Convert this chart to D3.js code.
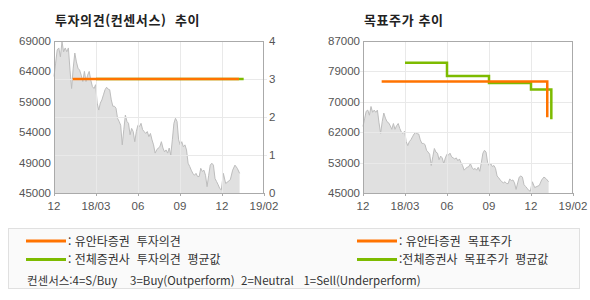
<!DOCTYPE html>
<html lang="ko">
<head>
<meta charset="UTF-8">
<title>투자의견 / 목표주가 추이</title>
<script src="https://d3js.org/d3.v7.min.js"></script>
<style>
    body { margin: 0; background: #fff; }
    svg { display: block; font-family: "Liberation Sans", "Noto Sans CJK KR", sans-serif; }
    .ko { font-family: "Noto Sans CJK KR", sans-serif; }
</style>
</head>
<body>
<div id="chart"></div>
<script>
// x axis ticks (equally spaced on the original chart)
const tickDates = ["2017-12-01", "2018-03-01", "2018-06-01", "2018-09-01", "2018-12-01", "2019-02-01"];
const tickLabels = ["12", "18/03", "06", "09", "12", "19/02"];

// price series (daily close), spread evenly from priceStart to priceEnd
const priceStart = "2017-12-01", priceEnd = "2018-12-27";
const priceValues = [63400, 65500, 67600, 67900, 66500, 68900, 67300, 67900, 67300, 67900,
    64400, 61500, 64700, 67100, 65700, 64700, 64400, 63600, 62600, 64200,
    62600, 63600, 64200, 62800, 61800, 61500, 62100, 59200, 58100, 59200,
    59700, 60500, 61300, 61700, 61400, 61300, 59700, 58700, 58700, 58400,
    56800, 56300, 55700, 52600, 55000, 57300, 56300, 56000, 54200, 55200,
    54700, 53100, 54700, 55700, 55500, 56000, 55000, 54700, 54400, 54700,
    53900, 54400, 53400, 52600, 51300, 51800, 52100, 52300, 53100, 52100,
    51500, 51800, 51300, 52100, 51000, 53400, 56000, 56800, 56300, 53400,
    52600, 53100, 52300, 52600, 51800, 49700, 49200, 48600, 48100, 47800,
    48100, 47600, 47600, 48900, 48400, 48600, 47800, 46000, 47800, 49400,
    49700, 49400, 47300, 46800, 46300, 45700, 45500, 48100, 46500, 46800,
    47100, 48600, 49400, 48900, 48100];

// left chart: price axis labels, opinion axis
const priceLabelsL = ["45000", "49000", "54000", "59000", "64000", "69000"];
const priceDomainL = [45000, 69000];
const opinionTicks = [0, 1, 2, 3, 4];
const yuantaOpinion = [{ date: "2018-01-10", value: 3 }, { date: "2018-12-26", value: 3 }];
const avgOpinion = [{ date: "2018-03-01", value: 3 }, { date: "2019-01-02", value: 3 }];

// right chart: target price
const priceLabelsR = ["45000", "53000", "62000", "70000", "79000", "87000"];
const priceDomainR = [45000, 87000];
const yuantaTarget = [{ date: "2018-01-10", value: 75800 }, { date: "2018-12-25", value: 65900 }];
const avgTarget = [
    { date: "2018-03-01", value: 81000 },
    { date: "2018-06-01", value: 77300 },
    { date: "2018-09-01", value: 75400 },
    { date: "2018-12-01", value: 73600 },
    { date: "2018-12-31", value: 65400 }];

const legendItems = [
    { text: ": 유안타증권  투자의견", color: "#ff7300", col: 0 },
    { text: ": 전체증권사  투자의견  평균값", color: "#7dbb00", col: 0 },
    { text: ": 유안타증권  목표주가", color: "#ff7300", col: 1 },
    { text: ":전체증권사  목표주가  평균값", color: "#7dbb00", col: 1 }];
const consensusNote = "컨센서스:4=S/Buy    3=Buy(Outperform)  2=Neutral   1=Sell(Underperform)";

const ORANGE = "#ff7300", GREEN = "#7dbb00";
const width = 590, height = 300;
const plotTop = 41, plotBottom = 193;
const parse = d3.timeParse("%Y-%m-%d");

const svg = d3.select("#chart").append("svg").attr("width", width).attr("height", height);

// price points with evenly spaced dates
const t0 = parse(priceStart).getTime(), t1 = parse(priceEnd).getTime();
const prices = priceValues.map((v, i) => ({ date: new Date(t0 + (t1 - t0) * i / (priceValues.length - 1)), value: v }));

function drawPanel(x0, x1, title, priceDomain, priceLabels) {
    const g = svg.append("g");
    const step = (x1 - x0) / (tickDates.length - 1);
    const x = d3.scaleTime()
        .domain(tickDates.map(parse))
        .range(tickDates.map((d, i) => x0 + i * step));
    const y = d3.scaleLinear().domain(priceDomain).range([plotBottom, plotTop]);
    const priceTicks = d3.range(priceLabels.length).map(i => priceDomain[0] + i * (priceDomain[1] - priceDomain[0]) / (priceLabels.length - 1));

    // title
    g.append("text").attr("class", "ko").attr("xml:space", "preserve")
        .attr("x", x0 + 1).attr("y", 25)
        .attr("font-size", 13).attr("font-weight", "bold").attr("fill", "#222")
        .attr("letter-spacing", 0.6)
        .text(title);

    // price area
    const area = d3.area().x(d => x(d.date)).y0(plotBottom).y1(d => y(d.value));
    const line = d3.line().x(d => x(d.date)).y(d => y(d.value));
    g.append("path").datum(prices).attr("d", area).attr("fill", "#e0e0e0");
    g.append("path").datum(prices).attr("d", line).attr("fill", "none").attr("stroke", "#bdbdbd").attr("stroke-width", 1);

    // vertical grid + bottom ticks
    g.selectAll(".vgrid").data(tickDates.slice(1, -1)).enter().append("line")
        .attr("x1", d => Math.round(x(parse(d))) + 0.5).attr("x2", d => Math.round(x(parse(d))) + 0.5)
        .attr("y1", plotTop).attr("y2", plotBottom)
        .attr("stroke", "#e9e9e9").attr("stroke-width", 1);
    g.selectAll(".xtick").data(tickDates).enter().append("line")
        .attr("x1", d => Math.round(x(parse(d))) + 0.5).attr("x2", d => Math.round(x(parse(d))) + 0.5)
        .attr("y1", plotBottom).attr("y2", plotBottom + 3)
        .attr("stroke", "#aaa");
    g.selectAll(".xlabel").data(tickDates).enter().append("text")
        .attr("x", d => x(parse(d))).attr("y", 210)
        .attr("text-anchor", "middle").attr("font-size", 11.5).attr("fill", "#555")
        .text((d, i) => tickLabels[i]);

    // left price labels
    g.selectAll(".plabel").data(priceTicks).enter().append("text")
        .attr("x", x0 - 3).attr("y", d => y(d) + 4)
        .attr("text-anchor", "end").attr("font-size", 11.5).attr("fill", "#555")
        .text((d, i) => priceLabels[i]);

    return { g, x, y, priceTicks };
}

function frame(g, x0, x1) {
    g.append("rect")
        .attr("x", x0 + 0.5).attr("y", plotTop + 0.5)
        .attr("width", x1 - x0 - 1).attr("height", plotBottom - plotTop)
        .attr("fill", "none").attr("stroke", "#aaa").attr("stroke-width", 1);
}

// ---- left: 투자의견(컨센서스) 추이
const L = drawPanel(54, 264, "투자의견(컨센서스)  추이", priceDomainL, priceLabelsL);
const yOp = d3.scaleLinear().domain([0, 4]).range([plotBottom, plotTop]);
L.g.selectAll(".hgrid").data(opinionTicks.slice(1, -1)).enter().append("line")
    .attr("x1", 54).attr("x2", 267)
    .attr("y1", d => Math.round(yOp(d)) + 0.5).attr("y2", d => Math.round(yOp(d)) + 0.5)
    .attr("stroke", "#e9e9e9");
L.g.selectAll(".olabel").data(opinionTicks).enter().append("text")
    .attr("x", 269).attr("y", d => yOp(d) + 4)
    .attr("font-size", 11.5).attr("fill", "#555")
    .text(d => d);
frame(L.g, 54, 264);
const opLine = d3.line().x(d => L.x(parse(d.date))).y(d => yOp(d.value));
L.g.append("path").datum(avgOpinion).attr("d", opLine).attr("fill", "none").attr("stroke", GREEN).attr("stroke-width", 2.5);
L.g.append("path").datum(yuantaOpinion).attr("d", opLine).attr("fill", "none").attr("stroke", ORANGE).attr("stroke-width", 2.5);

// ---- right: 목표주가 추이
const R = drawPanel(363, 573, "목표주가 추이", priceDomainR, priceLabelsR);
R.g.selectAll(".hgrid").data(R.priceTicks.slice(1, -1)).enter().append("line")
    .attr("x1", 360).attr("x2", 573)
    .attr("y1", d => Math.round(R.y(d)) + 0.5).attr("y2", d => Math.round(R.y(d)) + 0.5)
    .attr("stroke", "#e9e9e9");
frame(R.g, 363, 573);
const tpLine = d3.line().x(d => R.x(parse(d.date))).y(d => R.y(d.value)).curve(d3.curveStepAfter);
R.g.append("path").datum(avgTarget).attr("d", tpLine).attr("fill", "none").attr("stroke", GREEN).attr("stroke-width", 2.5);
R.g.append("path").datum(yuantaTarget).attr("d", tpLine).attr("fill", "none").attr("stroke", ORANGE).attr("stroke-width", 2.5);

// ---- legend
const lg = svg.append("g");
lg.append("rect").attr("x", 8.5).attr("y", 228.5).attr("width", 571).attr("height", 60)
    .attr("fill", "#fafafa").attr("stroke", "#e0e0e0");
const colX = [26, 357];
legendItems.forEach((d, i) => {
    const row = i % 2;
    const yy = 241 + row * 18.5;
    lg.append("line").attr("x1", colX[d.col]).attr("x2", colX[d.col] + 40)
        .attr("y1", yy).attr("y2", yy).attr("stroke", d.color).attr("stroke-width", 3);
    lg.append("text").attr("class", "ko").attr("xml:space", "preserve")
        .attr("x", colX[d.col] + 42).attr("y", yy + 4.5)
        .attr("font-size", 12).attr("fill", "#333")
        .text(d.text);
});
lg.append("text").attr("class", "ko").attr("xml:space", "preserve")
    .attr("x", 27).attr("y", 285)
    .attr("font-size", 11.5).attr("fill", "#333")
    .text(consensusNote);
</script>
</body>
</html>
